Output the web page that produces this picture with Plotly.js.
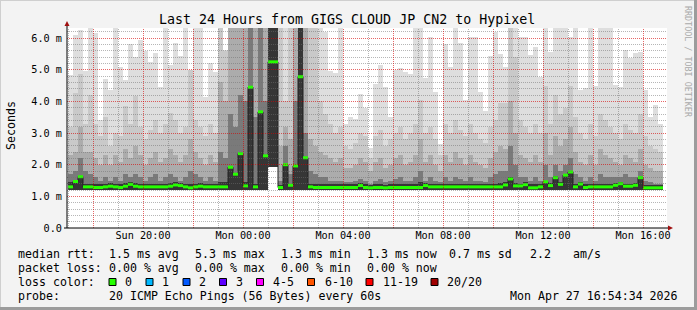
<!DOCTYPE html>
<html><head><meta charset="utf-8">
<script src="https://cdn.plot.ly/plotly-3.0.1.min.js"></script>
<style>
html,body{margin:0;padding:0;background:#f3f3f3;} #chart{width:697px;height:310px;}
.scatterlayer .trace:nth-last-child(-n+2) path.js-line{shape-rendering:crispEdges;}
</style>
</head><body><div id="chart"></div>
<script>
// ---- data: one column per 12-minute step, starting Sun 17:00 ----
const startTime = [2026, 3, 26, 17, 0, 0];
const stepMinutes = 12;

const median = [1.30,1.47,1.62,1.30,1.30,1.28,1.28,1.30,1.32,1.30,1.28,1.32,1.38,1.32,1.30,1.30,1.30,1.30,1.30,1.30,
1.32,1.36,1.34,1.30,1.27,1.30,1.32,1.30,1.30,1.30,1.30,1.30,1.92,1.70,2.35,1.33,4.45,1.30,3.67,2.28,
5.25,5.25,1.28,2.00,1.35,1.96,4.78,2.22,1.30,1.28,1.28,1.28,1.28,1.28,1.28,1.28,1.28,1.28,1.34,1.28,
1.27,1.28,1.28,1.27,1.28,1.28,1.28,1.28,1.28,1.28,1.28,1.34,1.30,1.30,1.30,1.30,1.30,1.30,1.30,1.30,
1.30,1.30,1.30,1.30,1.30,1.30,1.30,1.36,1.55,1.33,1.33,1.37,1.27,1.27,1.30,1.46,1.34,1.59,1.38,1.67,
1.77,1.30,1.39,1.28,1.30,1.30,1.30,1.30,1.30,1.35,1.40,1.32,1.32,1.35,1.59,1.27,1.27,1.27,1.27];

const smokeMin = [1.20,1.20,1.20,1.20,1.20,1.20,1.20,1.20,1.20,1.20,1.20,1.20,1.20,1.20,1.20,1.20,1.20,1.20,1.20,1.20,
1.20,1.20,1.20,1.20,1.20,1.20,1.20,1.20,1.20,1.20,1.20,1.20,1.20,1.20,1.20,1.20,1.20,1.20,1.20,1.20,
1.93,1.93,1.20,1.20,1.20,1.20,1.20,1.20,1.20,1.20,1.20,1.20,1.20,1.20,1.20,1.20,1.20,1.20,1.20,1.20,
1.20,1.20,1.20,1.20,1.20,1.20,1.20,1.20,1.20,1.20,1.20,1.20,1.20,1.20,1.20,1.20,1.20,1.20,1.20,1.20,
1.20,1.20,1.20,1.20,1.20,1.20,1.20,1.20,1.20,1.20,1.20,1.20,1.20,1.20,1.20,1.20,1.20,1.20,1.20,1.20,
1.20,1.20,1.20,1.20,1.20,1.20,1.20,1.20,1.20,1.20,1.20,1.20,1.20,1.20,1.20,1.20,1.20,1.20,1.20];

// highest ping (lightest smoke); 7 = beyond the top of the graph
const smokeMax = [4.83,6.10,6.25,4.97,7,6.15,3.41,4.70,4.36,7,5.09,4.67,5.80,5.41,5.94,5.60,5.25,5.54,4.46,7,
5.15,5.84,5.43,7,4.78,7,7,4.15,5.22,4.94,7,5.62,7,7,7,7,7,7,7,7,
7,7,7,7,7,7,7,7,7,7,7,6.20,4.95,4.90,7,3.30,3.51,3.45,4.24,3.78,
2.53,4.55,5.15,4.46,3.51,4.98,5.05,4.94,4.88,7,7,4.73,6.02,4.30,2.65,5.80,5.10,7,5.85,4.05,
6.05,6.05,4.30,3.70,5.44,6.20,5.50,5.09,7,7,6.03,6.03,5.46,5.73,4.78,7,5.55,7,7,7,
6.03,7,4.36,4.43,7,4.48,7,7,7,4.52,4.46,5.62,5.37,5.52,5.57,4.36,3.51,3.88,3.30];

const smokeUpper = [3.20,4.26,4.86,3.30,4.20,3.30,2.90,3.50,2.60,3.00,2.90,3.85,3.30,4.17,3.20,2.80,3.10,3.40,3.00,3.30,
3.63,3.40,3.00,3.20,5.00,3.40,3.20,2.90,3.30,3.00,7,5.60,7,7,7,7,7,7,7,7,
7,7,7,4.00,7,7,7,7,7,7,4.00,3.60,3.30,3.00,3.20,2.60,2.50,2.70,3.00,2.90,
2.20,2.90,3.10,2.60,2.80,3.00,3.20,2.80,3.00,3.30,4.04,3.00,3.20,2.80,2.30,3.30,3.00,3.40,3.10,2.90,
3.30,3.00,2.80,2.70,3.20,3.40,3.95,3.95,7,5.40,3.40,3.20,3.00,3.30,3.00,4.50,3.30,4.20,3.60,3.80,
4.50,3.50,3.00,2.80,3.30,2.90,3.60,3.40,3.20,3.00,2.80,3.30,3.10,3.00,3.60,2.90,2.60,2.50,2.40];

const smokeMid = [2.30,2.40,3.20,2.40,2.40,2.20,2.00,2.30,2.00,2.30,2.10,2.50,2.20,2.60,2.30,2.00,2.20,2.40,2.10,2.20,
2.50,2.30,2.10,2.30,2.80,2.40,2.20,2.00,2.30,2.10,4.60,4.00,7,7,7,7,7,7,7,7,
7,7,2.60,3.20,2.80,7,7,7,2.80,2.60,2.40,2.30,2.20,2.10,2.20,1.90,1.90,2.00,2.20,2.10,
1.80,2.10,2.20,1.90,2.00,2.20,2.30,2.00,2.10,2.30,2.80,2.10,2.30,2.00,1.80,2.30,2.10,2.40,2.20,2.00,
2.30,2.10,2.00,1.90,2.20,2.40,2.60,2.50,4.00,3.00,2.30,2.20,2.10,2.30,2.10,3.00,2.30,2.90,2.60,2.80,
3.20,2.40,2.10,2.00,2.30,2.00,2.50,2.30,2.20,2.10,2.00,2.30,2.20,2.10,2.50,2.00,1.90,1.80,1.80];

const smokeLower = [1.70,1.80,2.20,1.80,1.70,1.60,1.50,1.60,1.50,1.60,1.50,1.70,1.60,1.70,1.60,1.50,1.60,1.70,1.50,1.60,
1.70,1.60,1.50,1.60,1.80,1.70,1.60,1.50,1.60,1.50,2.40,2.20,3.60,3.20,4.20,4.00,7,3.50,7,4.00,
7,7,1.50,2.60,1.70,4.00,7,3.00,1.80,1.70,1.60,1.60,1.50,1.50,1.50,1.45,1.45,1.50,1.55,1.50,
1.40,1.50,1.55,1.45,1.50,1.55,1.60,1.50,1.50,1.60,1.80,1.50,1.60,1.50,1.45,1.60,1.50,1.60,1.55,1.50,
1.60,1.50,1.50,1.45,1.60,1.70,1.80,1.80,2.60,2.00,1.60,1.60,1.50,1.60,1.50,2.00,1.60,2.00,1.80,2.00,
2.20,1.70,1.60,1.50,1.60,1.50,1.70,1.60,1.60,1.60,1.60,1.70,1.60,1.60,1.80,1.50,1.45,1.40,1.40];

const smokeCore = [1.45,1.50,1.62,1.40,1.40,1.38,1.38,1.40,1.42,1.40,1.38,1.42,1.45,1.42,1.40,1.40,1.40,1.40,1.40,1.40,
1.42,1.45,1.42,1.40,1.38,1.40,1.42,1.40,1.40,1.40,1.45,1.45,1.92,1.70,2.35,1.45,4.45,1.40,3.67,2.28,
7,7,1.35,2.00,1.40,1.96,7,2.22,1.40,1.38,1.38,1.38,1.38,1.38,1.38,1.38,1.38,1.38,1.42,1.38,
1.36,1.38,1.38,1.36,1.38,1.38,1.38,1.38,1.38,1.38,1.45,1.42,1.40,1.40,1.38,1.40,1.38,1.40,1.38,1.38,
1.40,1.38,1.38,1.38,1.40,1.40,1.42,1.45,1.60,1.42,1.40,1.45,1.38,1.38,1.40,1.50,1.42,1.65,1.45,1.70,
1.80,1.40,1.45,1.38,1.40,1.38,1.40,1.40,1.40,1.42,1.45,1.40,1.40,1.42,1.62,1.36,1.36,1.36,1.36];

const smokeColors = ['#dedede', '#c9c9c9', '#acacac', '#7a7a7a', '#363636'];

const yTickVals = [0, 1, 2, 3, 4, 5, 6];
const yTickText = ['0.0', '1.0 m', '2.0 m', '3.0 m', '4.0 m', '5.0 m', '6.0 m'];

const titleText = 'Last 24 Hours from GIGS CLOUD JP CN2 to Hypixel';
const legendRows = [
  ['median rtt:', '1.5 ms avg', '5.3 ms max', '1.3 ms min', '1.3 ms now', '0.7 ms sd', '2.2', 'am/s'],
  ['packet loss:', '0.00 % avg', '0.00 % max', '0.00 % min', '0.00 % now'],
  ['loss color:'],
  ['probe:', '20 ICMP Echo Pings (56 Bytes) every 60s']
];
const lossLabels = ['0', '1', '2', '3', '4-5', '6-10', '11-19', '20/20'];
const lossColors = ['#26ff00', '#00b8ff', '#0059ff', '#5e00ff', '#ff00ff', '#ff5500', '#ff0000', '#a00000'];
const stampText = 'Mon Apr 27 16:54:34 2026';

// ---- build ----
const t0 = Date.UTC(...startTime);
const stepMs = stepMinutes * 60000;
const fmt = ms => new Date(ms).toISOString().replace('T', ' ').slice(0, 19);
const n = median.length;
const colStart = [], colMid = [];
for (let k = 0; k <= n; k++) colStart.push(fmt(t0 + k * stepMs));
for (let k = 0; k < n; k++) colMid.push(fmt(t0 + k * stepMs + stepMs / 2));

const smokeLevels = [smokeMax, smokeUpper, smokeMid, smokeLower, smokeCore];
const traces = smokeLevels.map((lvl, i) => ({
  type: 'bar', x: colMid, base: smokeMin, y: lvl.map((v, k) => v - smokeMin[k]),
  width: stepMs, marker: {color: smokeColors[i], line: {width: 0}}, hoverinfo: 'skip'
}));

traces.push({
  type: 'scatter', mode: 'lines', x: colStart, y: median.concat([median[n - 1]]),
  line: {shape: 'hv', color: '#202020', width: 1}, hoverinfo: 'skip'
});
const gx = [], gy = [];
for (let k = 0; k < n; k++) { gx.push(colStart[k], colStart[k + 1], null); gy.push(median[k], median[k], null); }
traces.push({type: 'scatter', mode: 'lines', x: gx, y: gy, line: {color: lossColors[0], width: 3}, hoverinfo: 'skip'});

// pixel helpers (plot area 67..667 x 28..228)
const PL = 67, PW = 600, PT = 28, PH = 200;
const px = v => (v - PL) / PW;
const py = v => (PT + PH - v) / PH;

const shapes = [];
const minorGrid = 'rgba(110,110,110,0.5)', majorGrid = 'rgba(215,0,0,0.6)';
const hourMs = 3600000;

// axes with arrows
shapes.push({type: 'line', xref: 'paper', yref: 'paper', x0: px(67), x1: px(67), y0: py(228), y1: py(24), layer: 'above', line: {color: '#000', width: 1}});
shapes.push({type: 'line', xref: 'paper', yref: 'paper', x0: px(64), x1: px(669), y0: py(228), y1: py(228), layer: 'above', line: {color: '#000', width: 1}});
shapes.push({type: 'path', xref: 'paper', yref: 'paper', layer: 'above',
  path: `M ${px(64.5)} ${py(26)} L ${px(69.5)} ${py(26)} L ${px(67)} ${py(21)} Z`, fillcolor: '#a01010', line: {width: 0}});
shapes.push({type: 'path', xref: 'paper', yref: 'paper', layer: 'above',
  path: `M ${px(668)} ${py(225.5)} L ${px(668)} ${py(230.5)} L ${px(673)} ${py(228)} Z`, fillcolor: '#a01010', line: {width: 0}});
// frame border
shapes.push({type: 'line', xref: 'paper', yref: 'paper', x0: px(0), x1: px(697), y0: py(0.5), y1: py(0.5), line: {color: '#cfcfcf', width: 1}});
shapes.push({type: 'line', xref: 'paper', yref: 'paper', x0: px(0.5), x1: px(0.5), y0: py(0), y1: py(310), line: {color: '#cfcfcf', width: 1}});
shapes.push({type: 'line', xref: 'paper', yref: 'paper', x0: px(0), x1: px(697), y0: py(308.5), y1: py(308.5), line: {color: '#9c9c9c', width: 3}});
shapes.push({type: 'line', xref: 'paper', yref: 'paper', x0: px(695.5), x1: px(695.5), y0: py(0), y1: py(310), line: {color: '#9c9c9c', width: 3}});

const mono = 'DejaVu Sans Mono';
const annotations = [];
const ann = (text, x, y, size, extra) => annotations.push(Object.assign({
  text, xref: 'paper', yref: 'paper', x: px(x), y: py(y), xanchor: 'left', yanchor: 'middle',
  showarrow: false, font: {family: mono, size: size, color: '#000'}}, extra || {}));

ann('Seconds', 11, 126, 11.6, {xanchor: 'center', textangle: -90});
ann('RRDTOOL / TOBI OETIKER', 688, 62, 8.4, {xanchor: 'center', textangle: 90, font: {family: mono, size: 8.4, color: '#aaaaaa'}});

const LS = 11.6;
const rowY = [254, 268, 282, 296];
const row1X = [16, 107, 193, 279, 365, 447, 528, 571];
legendRows[0].forEach((t, i) => ann(t, row1X[i], rowY[0], LS));
const row2X = [16, 107, 193, 279, 365];
legendRows[1].forEach((t, i) => ann(t, row2X[i], rowY[1], LS));
ann(legendRows[2][0], 16, rowY[2], LS);
const boxX = [109, 146, 183, 219.5, 256.5, 307.5, 366, 431];
const lblX = [123, 160, 197, 234, 271, 322.5, 380.5, 445];
lossLabels.forEach((t, i) => {
  ann(t, lblX[i], rowY[2], LS);
  shapes.push({type: 'rect', xref: 'paper', yref: 'paper', x0: px(boxX[i]), x1: px(boxX[i] + 7), y0: py(285.5), y1: py(278.5),
    fillcolor: lossColors[i], line: {color: '#000', width: 1}});
});
ann(legendRows[3][0], 16, rowY[3], LS);
ann(legendRows[3][1], 107, rowY[3], LS);
ann(stampText, 680, rowY[3], LS, {xanchor: 'right'});

// grid drawn as dotted line traces above the smoke, as rrdtool does
const yRange = [0, 6.32];
const xRange = ['2026-04-26 16:57:36', '2026-04-27 16:57:36'];
const hx = {minor: [], major: []}, hy = {minor: [], major: []};
for (let i = 1; i <= 31; i++) {
  const v = i * 0.2, key = i % 5 === 0 ? 'major' : 'minor';
  hx[key].push(xRange[0], xRange[1], null); hy[key].push(v, v, null);
}
const firstHour = Date.UTC(2026, 3, 26, 17, 0, 0);
for (let h = 0; h < 24; h++) {
  const t = firstHour + h * hourMs, key = new Date(t).getUTCHours() % 2 === 0 ? 'major' : 'minor';
  hx[key].push(fmt(t), fmt(t), null); hy[key].push(yRange[0], yRange[1], null);
}
traces.push({type: 'scatter', mode: 'lines', x: hx.minor, y: hy.minor, hoverinfo: 'skip',
  line: {color: minorGrid, width: 1, dash: '1px,1px'}});
traces.push({type: 'scatter', mode: 'lines', x: hx.major, y: hy.major, hoverinfo: 'skip',
  line: {color: majorGrid, width: 1, dash: '1px,1px'}});

const layout = {
  width: 697, height: 310,
  margin: {l: 67, r: 30, t: 28, b: 82, pad: 0},
  paper_bgcolor: '#f3f3f3', plot_bgcolor: '#ffffff',
  showlegend: false, barmode: 'overlay', bargap: 0,
  title: {text: titleText, x: 0.498, xanchor: 'center', y: 1 - 19 / 310, yanchor: 'middle',
    font: {family: mono, size: 13.3, color: '#000'}},
  xaxis: {type: 'date', range: xRange,
    tick0: '2026-04-26 20:00:00', dtick: 4 * hourMs, tickformat: '%a %H:%M',
    showgrid: false, zeroline: false, showline: false, ticks: '',
    tickfont: {family: mono, size: 10.2, color: '#000'}, fixedrange: true},
  yaxis: {range: yRange, tickmode: 'array', tickvals: yTickVals, ticktext: yTickText,
    showgrid: false, zeroline: false, showline: false, ticks: '', ticklabelstandoff: 4,
    tickfont: {family: mono, size: 10.2, color: '#000'}, fixedrange: true},
  shapes, annotations
};
Plotly.newPlot('chart', traces, layout, {staticPlot: true, displayModeBar: false});
</script></body></html>
